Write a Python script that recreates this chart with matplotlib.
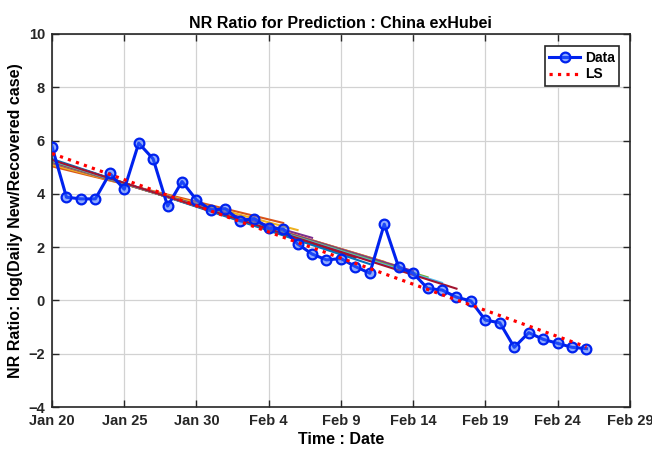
import numpy as np
import matplotlib.pyplot as plt
from datetime import date, timedelta

plt.rcParams['font.family'] = ['Liberation Sans', 'DejaVu Sans']
plt.rcParams['font.weight'] = 'bold'

# daily log(new/recovered) ratio, China excluding Hubei, from Jan 20
start = date(2020, 1, 20)
nr_ratio = [5.77, 3.87, 3.81, 3.81, 4.77, 4.17, 5.90, 5.31, 3.54, 4.46,
            3.77, 3.39, 3.44, 2.99, 3.07, 2.71, 2.68, 2.12, 1.74, 1.52,
            1.57, 1.27, 1.02, 2.86, 1.24, 1.02, 0.45, 0.39, 0.12, -0.02,
            -0.74, -0.84, -1.76, -1.21, -1.46, -1.61, -1.76, -1.81]
# last day of each partial fit window
window_ends = [date(2020, 2, d) for d in range(5, 18)]

days = [start + timedelta(days=i) for i in range(len(nr_ratio))]
t = np.arange(len(nr_ratio))
y = np.array(nr_ratio)

matlab_colors = ['#0072BD', '#D95319', '#EDB120', '#7E2F8E',
                 '#77AC30', '#4DBEEE', '#A2142F']

fig = plt.figure(figsize=(6.52, 4.49), dpi=100)
ax = fig.add_axes([0.0798, 0.0935, 0.8862, 0.831])

h_data, = ax.plot(days, y, '-o', color='#0022ee', lw=2.2, ms=7,
                  mfc=(0.2, 0.4, 1.0, 0.55), mec='#0022ee', mew=1.6,
                  zorder=3)

# least-squares fits over growing windows
for k, end in enumerate(window_ends):
    n = (end - start).days + 1
    p = np.polyfit(t[:n], y[:n], 1)
    tt = np.array([0, n - 1])
    ax.plot([days[0], days[n - 1]], np.polyval(p, tt),
            color=matlab_colors[(k + 1) % 7], lw=1.5, zorder=2)

p_all = np.polyfit(t, y, 1)
tt = np.array([0, len(t) - 1])
h_ls, = ax.plot([days[0], days[-1]], np.polyval(p_all, tt), ':',
                color='#ff0000', lw=2.3, zorder=4)

ax.set_xlim(date(2020, 1, 20), date(2020, 2, 29))
ax.set_ylim(-4, 10)
ax.set_yticks(range(-4, 11, 2))
ticks = [date(2020, 1, 20) + timedelta(days=5 * i) for i in range(9)]
ax.set_xticks(ticks)
ax.set_xticklabels([d.strftime('%b ') + str(d.day) for d in ticks])

ax.grid(True, color='#d2d2d2', lw=0.9)
ax.set_axisbelow(True)
ax.tick_params(direction='in', length=5, width=1, top=True, right=True,
               labelsize=10.5, pad=5, colors='#262626')
for s in ax.spines.values():
    s.set_color('#262626')
    s.set_linewidth(1.2)

ax.set_title('NR Ratio for Prediction : China exHubei', fontsize=11.5,
             fontweight='bold', pad=4)
ax.set_xlabel('Time : Date', fontsize=11.5, fontweight='bold', labelpad=3)
ax.set_ylabel('NR Ratio: log(Daily New/Recovered case)', fontsize=11.5,
              fontweight='bold', labelpad=4)

leg = ax.legend([h_data, h_ls], ['Data', 'LS'], loc='upper right',
                fontsize=10, handlelength=2.2, borderpad=0.3,
                labelspacing=0.2, handletextpad=0.4, fancybox=False,
                framealpha=1, bbox_to_anchor=(0.994, 0.985))
leg.get_frame().set_edgecolor('#262626')
leg.get_frame().set_linewidth(1.2)

fig.savefig('out.png', dpi=100)
